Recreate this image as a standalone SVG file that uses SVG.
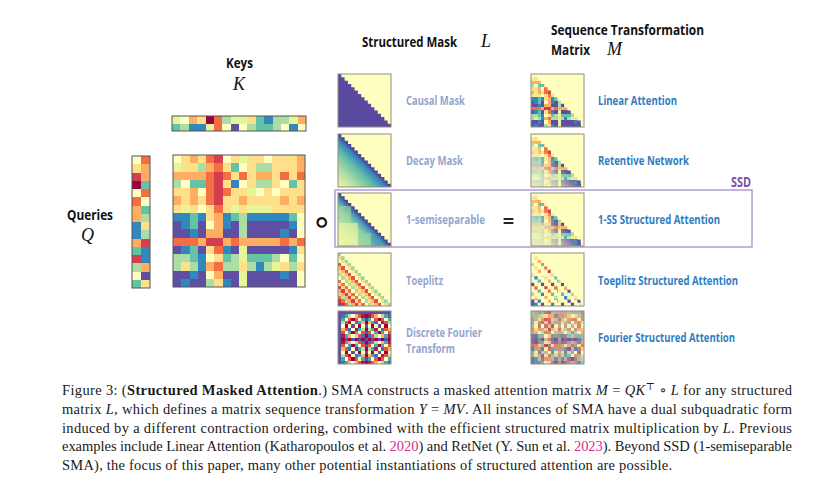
<svg xmlns="http://www.w3.org/2000/svg" xmlns:xlink="http://www.w3.org/1999/xlink" width="820" height="497" viewBox="0 0 820 497">
<style>
.A{fill:#9e0142}.B{fill:#d53e4f}.C{fill:#f46d43}.D{fill:#fdae61}.E{fill:#fee08b}.F{fill:#ffffbf}.G{fill:#e6f598}.H{fill:#abdda4}.I{fill:#66c2a5}.J{fill:#3288bd}.K{fill:#5e4fa2}
.k1{fill:#4470b1}.k2{fill:#4ca5b1}.k3{fill:#b1e0a2}.k4{fill:#ffffbf}.k5{fill:#fdb163}.k6{fill:#e45549}.k7{fill:#b21547}.k8{fill:#9e0142}
.hd{font-family:"Open Sans","Noto Sans","Liberation Sans",sans-serif;font-weight:700;font-size:14px;fill:#111}
.lm{font-family:"Open Sans","Noto Sans","Liberation Sans",sans-serif;font-weight:700;font-size:12px;fill:#93a6cf}
.lr{font-family:"Open Sans","Noto Sans","Liberation Sans",sans-serif;font-weight:700;font-size:12px;fill:#2f7dc0}
.mt{font-family:"Liberation Serif",serif;font-style:italic;font-size:18px;fill:#111}
.cap{font-family:"Liberation Serif","DejaVu Serif",serif;font-size:14.5px;fill:#1a1a1a}
.bd{fill:none;stroke:#8e8e80;stroke-width:1}
.hm{shape-rendering:crispEdges}
</style>
<defs>
<clipPath id="tri"><path d="M0 0H1V1H2V2H3V3H4V4H5V5H6V6H7V7H8V8H9V9H10V10H11V11H12V12H13V13H14V14H15V15H16V16H0Z"/></clipPath>
<path id="dg" d="M0 0h1v1h-1z m1 1h1v1h-1z m1 1h1v1h-1z m1 1h1v1h-1z m1 1h1v1h-1z m1 1h1v1h-1z m1 1h1v1h-1z m1 1h1v1h-1z m1 1h1v1h-1z m1 1h1v1h-1z m1 1h1v1h-1z m1 1h1v1h-1z m1 1h1v1h-1z m1 1h1v1h-1z m1 1h1v1h-1z m1 1h1v1h-1z"/>
<clipPath id="tsa"><use xlink:href="#dg" y="0"/><use xlink:href="#dg" y="3"/><use xlink:href="#dg" y="6"/><use xlink:href="#dg" y="9"/><use xlink:href="#dg" y="12"/><use xlink:href="#dg" y="14"/><use xlink:href="#dg" y="15"/></clipPath>
<linearGradient id="dec" x1="0" y1="1" x2="0.5" y2="0.5"><stop offset="0" stop-color="#edf7a0"/><stop offset=".35" stop-color="#b4e1a2"/><stop offset=".7" stop-color="#5fbba7"/><stop offset=".9" stop-color="#3a86bc"/><stop offset="1" stop-color="#4b4499"/></linearGradient>
<linearGradient id="ssg" x1="0" y1="1" x2="0.5" y2="0.5"><stop offset="0" stop-color="#f1f8a6"/><stop offset=".4" stop-color="#cbe9a0"/><stop offset=".7" stop-color="#8fd0a4"/><stop offset=".88" stop-color="#4a9fb5"/><stop offset="1" stop-color="#47479b"/></linearGradient>
<linearGradient id="fade" x1="0" y1="1" x2="0.5" y2="0.5"><stop offset="0" stop-color="#f2f7c2" stop-opacity=".95"/><stop offset=".55" stop-color="#eef5c0" stop-opacity=".7"/><stop offset="1" stop-color="#eef5c0" stop-opacity="0"/></linearGradient>
<g id="qk">
<rect x="0" y="0" width="1" height="1" class="F"/><rect x="1" y="0" width="1" height="1" class="E"/><rect x="2" y="0" width="1" height="1" class="D"/><rect x="3" y="0" width="1" height="1" class="E"/><rect x="4" y="0" width="1" height="1" class="C"/><rect x="5" y="0" width="1" height="1" class="B"/><rect x="6" y="0" width="1" height="1" class="F"/><rect x="7" y="0" width="1" height="1" class="E"/><rect x="8" y="0" width="1" height="1" class="G"/><rect x="9" y="0" width="2" height="1" class="E"/><rect x="11" y="0" width="1" height="1" class="F"/><rect x="12" y="0" width="3" height="1" class="E"/><rect x="15" y="0" width="1" height="1" class="D"/>
<rect x="0" y="1" width="1" height="1" class="G"/><rect x="1" y="1" width="2" height="1" class="E"/><rect x="3" y="1" width="1" height="1" class="H"/><rect x="4" y="1" width="1" height="1" class="D"/><rect x="5" y="1" width="1" height="1" class="C"/><rect x="6" y="1" width="1" height="1" class="E"/><rect x="7" y="1" width="1" height="1" class="I"/><rect x="8" y="1" width="1" height="1" class="F"/><rect x="9" y="1" width="1" height="1" class="E"/><rect x="10" y="1" width="2" height="1" class="H"/><rect x="12" y="1" width="3" height="1" class="E"/><rect x="15" y="1" width="1" height="1" class="D"/>
<rect x="0" y="2" width="4" height="1" class="D"/><rect x="4" y="2" width="1" height="1" class="C"/><rect x="5" y="2" width="1" height="1" class="B"/><rect x="6" y="2" width="1" height="1" class="C"/><rect x="7" y="2" width="1" height="1" class="E"/><rect x="8" y="2" width="1" height="1" class="C"/><rect x="9" y="2" width="1" height="1" class="E"/><rect x="10" y="2" width="2" height="1" class="D"/><rect x="12" y="2" width="1" height="1" class="E"/><rect x="13" y="2" width="1" height="1" class="C"/><rect x="14" y="2" width="1" height="1" class="E"/><rect x="15" y="2" width="1" height="1" class="C"/>
<rect x="0" y="3" width="1" height="1" class="H"/><rect x="1" y="3" width="1" height="1" class="F"/><rect x="2" y="3" width="2" height="1" class="I"/><rect x="4" y="3" width="1" height="1" class="C"/><rect x="5" y="3" width="1" height="1" class="B"/><rect x="6" y="3" width="1" height="1" class="E"/><rect x="7" y="3" width="1" height="1" class="J"/><rect x="8" y="3" width="1" height="1" class="F"/><rect x="9" y="3" width="1" height="1" class="E"/><rect x="10" y="3" width="2" height="1" class="H"/><rect x="12" y="3" width="1" height="1" class="E"/><rect x="13" y="3" width="1" height="1" class="F"/><rect x="14" y="3" width="1" height="1" class="I"/><rect x="15" y="3" width="1" height="1" class="E"/>
<rect x="0" y="4" width="2" height="1" class="E"/><rect x="2" y="4" width="1" height="1" class="D"/><rect x="3" y="4" width="1" height="1" class="F"/><rect x="4" y="4" width="1" height="1" class="C"/><rect x="5" y="4" width="1" height="1" class="B"/><rect x="6" y="4" width="1" height="1" class="C"/><rect x="7" y="4" width="2" height="1" class="E"/><rect x="9" y="4" width="1" height="1" class="G"/><rect x="10" y="4" width="1" height="1" class="F"/><rect x="11" y="4" width="1" height="1" class="E"/><rect x="12" y="4" width="1" height="1" class="F"/><rect x="13" y="4" width="3" height="1" class="E"/>
<rect x="0" y="5" width="1" height="1" class="D"/><rect x="1" y="5" width="1" height="1" class="E"/><rect x="2" y="5" width="1" height="1" class="D"/><rect x="3" y="5" width="1" height="1" class="E"/><rect x="4" y="5" width="1" height="1" class="C"/><rect x="5" y="5" width="1" height="1" class="B"/><rect x="6" y="5" width="2" height="1" class="E"/><rect x="8" y="5" width="1" height="1" class="D"/><rect x="9" y="5" width="4" height="1" class="E"/><rect x="13" y="5" width="1" height="1" class="D"/><rect x="14" y="5" width="1" height="1" class="E"/><rect x="15" y="5" width="1" height="1" class="D"/>
<rect x="0" y="6" width="1" height="1" class="E"/><rect x="1" y="6" width="1" height="1" class="G"/><rect x="2" y="6" width="1" height="1" class="E"/><rect x="3" y="6" width="1" height="1" class="F"/><rect x="4" y="6" width="1" height="1" class="E"/><rect x="5" y="6" width="1" height="1" class="C"/><rect x="6" y="6" width="1" height="1" class="E"/><rect x="7" y="6" width="1" height="1" class="G"/><rect x="8" y="6" width="1" height="1" class="E"/><rect x="9" y="6" width="3" height="1" class="G"/><rect x="12" y="6" width="4" height="1" class="E"/>
<rect x="0" y="7" width="2" height="1" class="J"/><rect x="2" y="7" width="1" height="1" class="I"/><rect x="3" y="7" width="1" height="1" class="J"/><rect x="4" y="7" width="1" height="1" class="E"/><rect x="5" y="7" width="1" height="1" class="D"/><rect x="6" y="7" width="1" height="1" class="J"/><rect x="7" y="7" width="1" height="1" class="I"/><rect x="8" y="7" width="1" height="1" class="H"/><rect x="9" y="7" width="5" height="1" class="J"/><rect x="14" y="7" width="1" height="1" class="I"/><rect x="15" y="7" width="1" height="1" class="F"/>
<rect x="0" y="8" width="1" height="1" class="K"/><rect x="1" y="8" width="1" height="1" class="J"/><rect x="2" y="8" width="1" height="1" class="I"/><rect x="3" y="8" width="1" height="1" class="K"/><rect x="4" y="8" width="1" height="1" class="F"/><rect x="5" y="8" width="1" height="1" class="D"/><rect x="6" y="8" width="1" height="1" class="J"/><rect x="7" y="8" width="1" height="1" class="K"/><rect x="8" y="8" width="1" height="1" class="H"/><rect x="9" y="8" width="5" height="1" class="K"/><rect x="14" y="8" width="1" height="1" class="J"/><rect x="15" y="8" width="1" height="1" class="F"/>
<rect x="0" y="9" width="2" height="1" class="K"/><rect x="2" y="9" width="1" height="1" class="J"/><rect x="3" y="9" width="1" height="1" class="K"/><rect x="4" y="9" width="2" height="1" class="D"/><rect x="6" y="9" width="2" height="1" class="K"/><rect x="8" y="9" width="1" height="1" class="H"/><rect x="9" y="9" width="4" height="1" class="K"/><rect x="13" y="9" width="1" height="1" class="J"/><rect x="14" y="9" width="1" height="1" class="K"/><rect x="15" y="9" width="1" height="1" class="F"/>
<rect x="0" y="10" width="3" height="1" class="C"/><rect x="3" y="10" width="1" height="1" class="D"/><rect x="4" y="10" width="2" height="1" class="B"/><rect x="6" y="10" width="1" height="1" class="D"/><rect x="7" y="10" width="1" height="1" class="C"/><rect x="8" y="10" width="5" height="1" class="D"/><rect x="13" y="10" width="1" height="1" class="C"/><rect x="14" y="10" width="1" height="1" class="D"/><rect x="15" y="10" width="1" height="1" class="C"/>
<rect x="0" y="11" width="1" height="1" class="K"/><rect x="1" y="11" width="1" height="1" class="J"/><rect x="2" y="11" width="1" height="1" class="I"/><rect x="3" y="11" width="1" height="1" class="K"/><rect x="4" y="11" width="1" height="1" class="E"/><rect x="5" y="11" width="1" height="1" class="C"/><rect x="6" y="11" width="1" height="1" class="J"/><rect x="7" y="11" width="1" height="1" class="K"/><rect x="8" y="11" width="1" height="1" class="G"/><rect x="9" y="11" width="5" height="1" class="K"/><rect x="14" y="11" width="1" height="1" class="J"/><rect x="15" y="11" width="1" height="1" class="E"/>
<rect x="0" y="12" width="2" height="1" class="H"/><rect x="2" y="12" width="1" height="1" class="I"/><rect x="3" y="12" width="1" height="1" class="J"/><rect x="4" y="12" width="1" height="1" class="F"/><rect x="5" y="12" width="1" height="1" class="E"/><rect x="6" y="12" width="1" height="1" class="I"/><rect x="7" y="12" width="1" height="1" class="H"/><rect x="8" y="12" width="1" height="1" class="G"/><rect x="9" y="12" width="3" height="1" class="I"/><rect x="12" y="12" width="1" height="1" class="H"/><rect x="13" y="12" width="1" height="1" class="F"/><rect x="14" y="12" width="1" height="1" class="I"/><rect x="15" y="12" width="1" height="1" class="F"/>
<rect x="0" y="13" width="1" height="1" class="H"/><rect x="1" y="13" width="1" height="1" class="E"/><rect x="2" y="13" width="1" height="1" class="H"/><rect x="3" y="13" width="1" height="1" class="J"/><rect x="4" y="13" width="1" height="1" class="D"/><rect x="5" y="13" width="1" height="1" class="C"/><rect x="6" y="13" width="2" height="1" class="H"/><rect x="8" y="13" width="1" height="1" class="E"/><rect x="9" y="13" width="1" height="1" class="H"/><rect x="10" y="13" width="1" height="1" class="J"/><rect x="11" y="13" width="1" height="1" class="H"/><rect x="12" y="13" width="1" height="1" class="G"/><rect x="13" y="13" width="1" height="1" class="E"/><rect x="14" y="13" width="1" height="1" class="H"/><rect x="15" y="13" width="1" height="1" class="E"/>
<rect x="0" y="14" width="2" height="1" class="K"/><rect x="2" y="14" width="1" height="1" class="J"/><rect x="3" y="14" width="1" height="1" class="K"/><rect x="4" y="14" width="1" height="1" class="F"/><rect x="5" y="14" width="1" height="1" class="D"/><rect x="6" y="14" width="2" height="1" class="K"/><rect x="8" y="14" width="1" height="1" class="G"/><rect x="9" y="14" width="4" height="1" class="K"/><rect x="13" y="14" width="1" height="1" class="J"/><rect x="14" y="14" width="1" height="1" class="K"/><rect x="15" y="14" width="1" height="1" class="F"/>
<rect x="0" y="15" width="1" height="1" class="K"/><rect x="1" y="15" width="1" height="1" class="J"/><rect x="2" y="15" width="2" height="1" class="K"/><rect x="4" y="15" width="1" height="1" class="H"/><rect x="5" y="15" width="1" height="1" class="E"/><rect x="6" y="15" width="1" height="1" class="J"/><rect x="7" y="15" width="1" height="1" class="K"/><rect x="8" y="15" width="1" height="1" class="G"/><rect x="9" y="15" width="6" height="1" class="K"/><rect x="15" y="15" width="1" height="1" class="F"/>
</g>
<g id="dft">
<rect width="16" height="16" fill="#5e4fa2"/>
<g id="dh">
<rect x="1" y="1" width="1" height="1" class="k1"/><rect x="2" y="1" width="1" height="1" class="k2"/><rect x="3" y="1" width="1" height="1" class="k3"/><rect x="4" y="1" width="1" height="1" class="k4"/><rect x="5" y="1" width="1" height="1" class="k5"/><rect x="6" y="1" width="1" height="1" class="k6"/><rect x="7" y="1" width="1" height="1" class="k7"/><rect x="8" y="1" width="1" height="1" class="k8"/><rect x="9" y="1" width="1" height="1" class="k7"/><rect x="10" y="1" width="1" height="1" class="k6"/><rect x="11" y="1" width="1" height="1" class="k5"/><rect x="12" y="1" width="1" height="1" class="k4"/><rect x="13" y="1" width="1" height="1" class="k3"/><rect x="14" y="1" width="1" height="1" class="k2"/><rect x="15" y="1" width="1" height="1" class="k1"/>
<rect x="1" y="2" width="1" height="1" class="k2"/><rect x="2" y="2" width="1" height="1" class="k4"/><rect x="3" y="2" width="1" height="1" class="k6"/><rect x="4" y="2" width="1" height="1" class="k8"/><rect x="5" y="2" width="1" height="1" class="k6"/><rect x="6" y="2" width="1" height="1" class="k4"/><rect x="7" y="2" width="1" height="1" class="k2"/><rect x="9" y="2" width="1" height="1" class="k2"/><rect x="10" y="2" width="1" height="1" class="k4"/><rect x="11" y="2" width="1" height="1" class="k6"/><rect x="12" y="2" width="1" height="1" class="k8"/><rect x="13" y="2" width="1" height="1" class="k6"/><rect x="14" y="2" width="1" height="1" class="k4"/><rect x="15" y="2" width="1" height="1" class="k2"/>
<rect x="1" y="3" width="1" height="1" class="k3"/><rect x="2" y="3" width="1" height="1" class="k6"/><rect x="3" y="3" width="1" height="1" class="k7"/><rect x="4" y="3" width="1" height="1" class="k4"/><rect x="5" y="3" width="1" height="1" class="k1"/><rect x="6" y="3" width="1" height="1" class="k2"/><rect x="7" y="3" width="1" height="1" class="k5"/><rect x="8" y="3" width="1" height="1" class="k8"/><rect x="9" y="3" width="1" height="1" class="k5"/><rect x="10" y="3" width="1" height="1" class="k2"/><rect x="11" y="3" width="1" height="1" class="k1"/><rect x="12" y="3" width="1" height="1" class="k4"/><rect x="13" y="3" width="1" height="1" class="k7"/><rect x="14" y="3" width="1" height="1" class="k6"/><rect x="15" y="3" width="1" height="1" class="k3"/>
<rect x="1" y="4" width="1" height="1" class="k4"/><rect x="2" y="4" width="1" height="1" class="k8"/><rect x="3" y="4" width="1" height="1" class="k4"/><rect x="5" y="4" width="1" height="1" class="k4"/><rect x="6" y="4" width="1" height="1" class="k8"/><rect x="7" y="4" width="1" height="1" class="k4"/><rect x="9" y="4" width="1" height="1" class="k4"/><rect x="10" y="4" width="1" height="1" class="k8"/><rect x="11" y="4" width="1" height="1" class="k4"/><rect x="13" y="4" width="1" height="1" class="k4"/><rect x="14" y="4" width="1" height="1" class="k8"/><rect x="15" y="4" width="1" height="1" class="k4"/>
<rect x="1" y="5" width="1" height="1" class="k5"/><rect x="2" y="5" width="1" height="1" class="k6"/><rect x="3" y="5" width="1" height="1" class="k1"/><rect x="4" y="5" width="1" height="1" class="k4"/><rect x="5" y="5" width="1" height="1" class="k7"/><rect x="6" y="5" width="1" height="1" class="k2"/><rect x="7" y="5" width="1" height="1" class="k3"/><rect x="8" y="5" width="1" height="1" class="k8"/><rect x="9" y="5" width="1" height="1" class="k3"/><rect x="10" y="5" width="1" height="1" class="k2"/><rect x="11" y="5" width="1" height="1" class="k7"/><rect x="12" y="5" width="1" height="1" class="k4"/><rect x="13" y="5" width="1" height="1" class="k1"/><rect x="14" y="5" width="1" height="1" class="k6"/><rect x="15" y="5" width="1" height="1" class="k5"/>
<rect x="1" y="6" width="1" height="1" class="k6"/><rect x="2" y="6" width="1" height="1" class="k4"/><rect x="3" y="6" width="1" height="1" class="k2"/><rect x="4" y="6" width="1" height="1" class="k8"/><rect x="5" y="6" width="1" height="1" class="k2"/><rect x="6" y="6" width="1" height="1" class="k4"/><rect x="7" y="6" width="1" height="1" class="k6"/><rect x="9" y="6" width="1" height="1" class="k6"/><rect x="10" y="6" width="1" height="1" class="k4"/><rect x="11" y="6" width="1" height="1" class="k2"/><rect x="12" y="6" width="1" height="1" class="k8"/><rect x="13" y="6" width="1" height="1" class="k2"/><rect x="14" y="6" width="1" height="1" class="k4"/><rect x="15" y="6" width="1" height="1" class="k6"/>
<rect x="1" y="7" width="1" height="1" class="k7"/><rect x="2" y="7" width="1" height="1" class="k2"/><rect x="3" y="7" width="1" height="1" class="k5"/><rect x="4" y="7" width="1" height="1" class="k4"/><rect x="5" y="7" width="1" height="1" class="k3"/><rect x="6" y="7" width="1" height="1" class="k6"/><rect x="7" y="7" width="1" height="1" class="k1"/><rect x="8" y="7" width="1" height="1" class="k8"/><rect x="9" y="7" width="1" height="1" class="k1"/><rect x="10" y="7" width="1" height="1" class="k6"/><rect x="11" y="7" width="1" height="1" class="k3"/><rect x="12" y="7" width="1" height="1" class="k4"/><rect x="13" y="7" width="1" height="1" class="k5"/><rect x="14" y="7" width="1" height="1" class="k2"/><rect x="15" y="7" width="1" height="1" class="k7"/>
</g>
<rect x="1" y="8" width="1" height="1" class="k8"/><rect x="3" y="8" width="1" height="1" class="k8"/><rect x="5" y="8" width="1" height="1" class="k8"/><rect x="7" y="8" width="1" height="1" class="k8"/><rect x="9" y="8" width="1" height="1" class="k8"/><rect x="11" y="8" width="1" height="1" class="k8"/><rect x="13" y="8" width="1" height="1" class="k8"/><rect x="15" y="8" width="1" height="1" class="k8"/>
<use xlink:href="#dh" transform="translate(0,17) scale(1,-1)"/>
</g>
</defs>

<rect width="820" height="497" fill="#ffffff"/>

<g id="keys">
<text class="hd" x="226" y="68" textLength="27" lengthAdjust="spacingAndGlyphs">Keys</text>
<text class="mt" x="233" y="90">K</text>
<g transform="translate(172,116) scale(8.375,7.5)" class="hm">
<rect x="0" y="0" width="1" height="1" class="G"/><rect x="1" y="0" width="1" height="1" class="F"/><rect x="2" y="0" width="1" height="1" class="D"/><rect x="3" y="0" width="1" height="1" class="E"/><rect x="4" y="0" width="1" height="1" class="A"/><rect x="5" y="0" width="1" height="1" class="C"/><rect x="6" y="0" width="1" height="1" class="H"/><rect x="7" y="0" width="2" height="1" class="G"/><rect x="9" y="0" width="1" height="1" class="E"/><rect x="10" y="0" width="1" height="1" class="I"/><rect x="11" y="0" width="1" height="1" class="J"/><rect x="12" y="0" width="2" height="1" class="H"/><rect x="14" y="0" width="1" height="1" class="G"/><rect x="15" y="0" width="1" height="1" class="D"/>
<rect x="0" y="1" width="1" height="1" class="I"/><rect x="1" y="1" width="1" height="1" class="H"/><rect x="2" y="1" width="2" height="1" class="J"/><rect x="4" y="1" width="1" height="1" class="G"/><rect x="5" y="1" width="1" height="1" class="C"/><rect x="6" y="1" width="1" height="1" class="F"/><rect x="7" y="1" width="1" height="1" class="K"/><rect x="8" y="1" width="1" height="1" class="F"/><rect x="9" y="1" width="1" height="1" class="H"/><rect x="10" y="1" width="2" height="1" class="I"/><rect x="12" y="1" width="1" height="1" class="H"/><rect x="13" y="1" width="1" height="1" class="F"/><rect x="14" y="1" width="1" height="1" class="J"/><rect x="15" y="1" width="1" height="1" class="F"/>
</g>
<rect x="172" y="116" width="134" height="15" fill="none" stroke="#555" stroke-width="1"/>
</g>

<g id="queries">
<text class="hd" x="67" y="220" textLength="46" lengthAdjust="spacingAndGlyphs">Queries</text>
<text class="mt" x="81" y="241">Q</text>
<g transform="translate(132,156) scale(9,8.25)" class="hm">
<rect x="0" y="0" width="1" height="1" class="F"/><rect x="1" y="0" width="1" height="1" class="C"/>
<rect x="0" y="1" width="1" height="1" class="E"/><rect x="1" y="1" width="1" height="1" class="D"/>
<rect x="0" y="2" width="1" height="1" class="B"/><rect x="1" y="2" width="1" height="1" class="D"/>
<rect x="0" y="3" width="1" height="1" class="A"/><rect x="1" y="3" width="1" height="1" class="I"/>
<rect x="0" y="4" width="1" height="1" class="F"/><rect x="1" y="4" width="1" height="1" class="C"/>
<rect x="0" y="5" width="1" height="1" class="C"/><rect x="1" y="5" width="1" height="1" class="F"/>
<rect x="0" y="6" width="1" height="1" class="D"/><rect x="1" y="6" width="1" height="1" class="I"/>
<rect x="0" y="7" width="1" height="1" class="D"/><rect x="1" y="7" width="1" height="1" class="H"/>
<rect x="0" y="8" width="1" height="1" class="J"/><rect x="1" y="8" width="1" height="1" class="E"/>
<rect x="0" y="9" width="1" height="1" class="J"/><rect x="1" y="9" width="1" height="1" class="H"/>
<rect x="0" y="10" width="1" height="1" class="D"/><rect x="1" y="10" width="1" height="1" class="B"/>
<rect x="0" y="11" width="1" height="1" class="I"/><rect x="1" y="11" width="1" height="1" class="J"/>
<rect x="0" y="12" width="1" height="1" class="B"/><rect x="1" y="12" width="1" height="1" class="J"/>
<rect x="0" y="13" width="1" height="1" class="H"/><rect x="1" y="13" width="1" height="1" class="D"/>
<rect x="0" y="14" width="1" height="1" class="F"/><rect x="1" y="14" width="1" height="1" class="K"/>
<rect x="0" y="15" width="1" height="1" class="I"/><rect x="1" y="15" width="1" height="1" class="E"/>
</g>
<rect x="132" y="156" width="18" height="132" fill="none" stroke="#555" stroke-width="1"/>
</g>

<g id="qk-matrix">
<g transform="translate(173,155) scale(8.25)" class="hm"><use xlink:href="#qk"/></g>
<rect x="173" y="155" width="132" height="132" fill="none" stroke="#555" stroke-width="1"/>
</g>

<g id="op-hadamard">
<text x="322" y="233" text-anchor="middle" font-family="DejaVu Sans" font-size="34" fill="#111">∘</text>
</g>

<g id="header-mask">
<text class="hd" x="362" y="47" textLength="95" lengthAdjust="spacingAndGlyphs">Structured Mask</text>
<text class="mt" x="481" y="47" font-size="17">L</text>
</g>

<g id="header-seq">
<text class="hd" x="551" y="35" textLength="153" lengthAdjust="spacingAndGlyphs">Sequence Transformation</text>
<text class="hd" x="551" y="55" textLength="39" lengthAdjust="spacingAndGlyphs">Matrix</text>
<text class="mt" x="607" y="55">M</text>
</g>

<g id="ssd-box">
<rect x="335" y="190" width="417" height="57" fill="none" stroke="#b49bd6" stroke-width="1.5"/>
<text x="731" y="187" font-family="Open Sans,Noto Sans,sans-serif" font-weight="700" font-size="14" fill="#7b4fa8" textLength="20" lengthAdjust="spacingAndGlyphs">SSD</text>
</g>

<g id="mask-causal">
<g transform="translate(338,74) scale(3.3125)" class="hm"><rect width="16" height="16" fill="#ffffbf"/><g clip-path="url(#tri)"><rect width="16" height="16" fill="#5a4a9f"/></g></g>
<rect class="bd" x="338" y="74" width="53" height="53"/>
<text class="lm" x="406" y="105" textLength="59" lengthAdjust="spacingAndGlyphs">Causal Mask</text>
</g>

<g id="mask-decay">
<g transform="translate(338,134) scale(3.3125)" class="hm"><rect width="16" height="16" fill="#ffffbf"/><g clip-path="url(#tri)"><rect width="16" height="16" fill="url(#dec)"/></g></g>
<rect class="bd" x="338" y="134" width="53" height="53"/>
<text class="lm" x="406" y="165" textLength="57" lengthAdjust="spacingAndGlyphs">Decay Mask</text>
</g>

<g id="mask-1ss">
<g transform="translate(338,193) scale(3.3125)" class="hm"><rect width="16" height="16" fill="#ffffbf"/><g clip-path="url(#tri)"><rect width="16" height="16" fill="url(#ssg)"/><rect x="0" y="9" width="6" height="7" fill="#eef6a4" opacity=".6"/><rect x="6" y="12" width="4" height="4" fill="#8fd0a4" opacity=".6"/><rect x="0" y="4" width="4" height="5" fill="#a9dca2" opacity=".5"/><rect x="10" y="13" width="3" height="3" fill="#3f8fb8" opacity=".5"/></g></g>
<rect class="bd" x="338" y="193" width="53" height="53"/>
<text class="lm" x="406" y="224" textLength="79" lengthAdjust="spacingAndGlyphs">1-semiseparable</text>
</g>

<g id="op-equals">
<text x="508.5" y="228" text-anchor="middle" font-family="Open Sans,Noto Sans,sans-serif" font-weight="700" font-size="20" fill="#222">=</text>
</g>

<g id="mask-toeplitz">
<g transform="translate(338,253) scale(3.3125)" class="hm"><rect width="16" height="16" fill="#ffffbf"/><g clip-path="url(#tri)">
<use xlink:href="#dg" y="0" fill="#9bd5a3"/><use xlink:href="#dg" y="1" fill="#fee08b"/><use xlink:href="#dg" y="2" fill="#ffffbf"/><use xlink:href="#dg" y="3" fill="#e0504d"/><use xlink:href="#dg" y="4" fill="#fdb865"/><use xlink:href="#dg" y="5" fill="#fee08b"/><use xlink:href="#dg" y="6" fill="#abdda4"/><use xlink:href="#dg" y="7" fill="#ffffbf"/><use xlink:href="#dg" y="8" fill="#f46d43"/><use xlink:href="#dg" y="9" fill="#fee08b"/><use xlink:href="#dg" y="10" fill="#d53e4f"/><use xlink:href="#dg" y="11" fill="#fdae61"/><use xlink:href="#dg" y="12" fill="#b7e2a0"/><use xlink:href="#dg" y="13" fill="#f46d43"/><use xlink:href="#dg" y="14" fill="#c8334d"/><use xlink:href="#dg" y="15" fill="#5e4fa2"/>
</g></g>
<rect class="bd" x="338" y="253" width="53" height="53"/>
<text class="lm" x="406" y="285" textLength="37" lengthAdjust="spacingAndGlyphs">Toeplitz</text>
</g>

<g id="mask-dft">
<g transform="translate(338,311) scale(3.3125)" class="hm"><use xlink:href="#dft"/></g>
<rect class="bd" x="338" y="311" width="53" height="53"/>
<text class="lm" x="406" y="337" font-size="11.5" textLength="76" lengthAdjust="spacingAndGlyphs">Discrete Fourier</text>
<text class="lm" x="406" y="353" font-size="11.5" textLength="49" lengthAdjust="spacingAndGlyphs">Transform</text>
</g>

<g id="m-linear">
<g transform="translate(531,74) scale(3.3125)" class="hm"><rect width="16" height="16" fill="#ffffbf"/><g clip-path="url(#tri)"><use xlink:href="#qk"/></g></g>
<rect class="bd" x="531" y="74" width="53" height="53"/>
<text class="lr" x="598" y="105" textLength="79" lengthAdjust="spacingAndGlyphs">Linear Attention</text>
</g>

<g id="m-retnet">
<g transform="translate(531,134) scale(3.3125)" class="hm"><rect width="16" height="16" fill="#ffffbf"/><g clip-path="url(#tri)"><use xlink:href="#qk"/><rect width="16" height="16" fill="url(#fade)"/></g></g>
<rect class="bd" x="531" y="134" width="53" height="53"/>
<text class="lr" x="598" y="165" textLength="91" lengthAdjust="spacingAndGlyphs">Retentive Network</text>
</g>

<g id="m-1ss">
<g transform="translate(531,193) scale(3.3125)" class="hm"><rect width="16" height="16" fill="#ffffbf"/><g clip-path="url(#tri)"><use xlink:href="#qk"/><rect width="16" height="16" fill="url(#fade)"/><rect x="0" y="9" width="6" height="7" fill="#eef6b0" opacity=".45"/></g></g>
<rect class="bd" x="531" y="193" width="53" height="53"/>
<text class="lr" x="598" y="224" textLength="122" lengthAdjust="spacingAndGlyphs">1-SS Structured Attention</text>
</g>

<g id="m-toeplitz">
<g transform="translate(531,253) scale(3.3125)" class="hm"><rect width="16" height="16" fill="#ffffbf"/><g clip-path="url(#tri)"><g clip-path="url(#tsa)"><use xlink:href="#qk"/></g></g></g>
<rect class="bd" x="531" y="253" width="53" height="53"/>
<text class="lr" x="598" y="285" textLength="140" lengthAdjust="spacingAndGlyphs">Toeplitz Structured Attention</text>
</g>

<g id="m-fourier">
<g transform="translate(531,311) scale(3.3125)" class="hm"><rect width="16" height="16" fill="#ffffbf"/><g opacity=".7"><use xlink:href="#qk"/></g><g opacity=".4"><use xlink:href="#dft"/></g></g>
<rect class="bd" x="531" y="311" width="53" height="53"/>
<text class="lr" x="598" y="342" textLength="137" lengthAdjust="spacingAndGlyphs">Fourier Structured Attention</text>
</g>

<g id="caption" class="cap">
<text x="62" y="395" textLength="730" lengthAdjust="spacing">Figure 3: (<tspan font-weight="700">Structured Masked Attention</tspan>.) SMA constructs a masked attention matrix <tspan font-style="italic">M</tspan> = <tspan font-style="italic">QK</tspan><tspan dy="-5" font-size="10">⊤</tspan><tspan dy="5"> ∘ </tspan><tspan font-style="italic">L</tspan> for any structured</text>
<text x="62" y="414" textLength="730" lengthAdjust="spacing">matrix <tspan font-style="italic">L</tspan>, which defines a matrix sequence transformation <tspan font-style="italic">Y</tspan> = <tspan font-style="italic">MV</tspan>. All instances of SMA have a dual subquadratic form</text>
<text x="62" y="432.5" textLength="730" lengthAdjust="spacing">induced by a different contraction ordering, combined with the efficient structured matrix multiplication by <tspan font-style="italic">L</tspan>. Previous</text>
<text x="62" y="451" textLength="730" lengthAdjust="spacing">examples include Linear Attention (Katharopoulos et al. <tspan fill="#d4308c">2020</tspan>) and RetNet (Y. Sun et al. <tspan fill="#d4308c">2023</tspan>). Beyond SSD (1-semiseparable</text>
<text x="62" y="470" textLength="610" lengthAdjust="spacing">SMA), the focus of this paper, many other potential instantiations of structured attention are possible.</text>
</g>
</svg>
